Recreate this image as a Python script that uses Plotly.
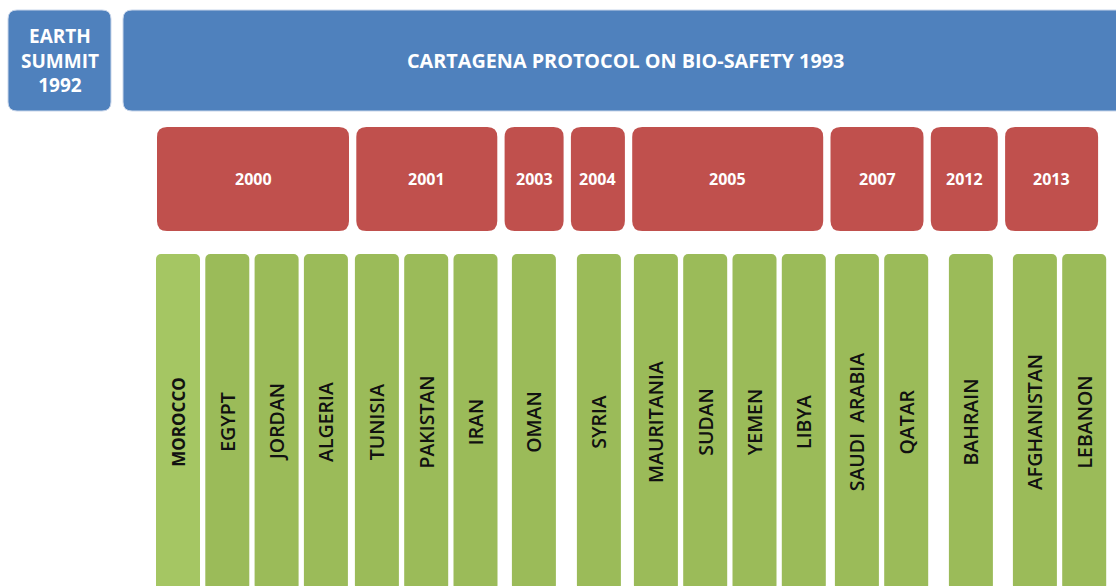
import plotly.graph_objects as go

# ---------------- data ----------------
header_left = ["EARTH", "SUMMIT", "1992"]
header_main = "CARTAGENA PROTOCOL ON BIO-SAFETY 1993"
years = ["2000", "2001", "2003", "2004", "2005", "2007", "2012", "2013"]
countries = ["MOROCCO", "EGYPT", "JORDAN", "ALGERIA",
             "TUNISIA", "PAKISTAN", "IRAN",
             "OMAN", "SYRIA",
             "MAURITANIA", "SUDAN", "YEMEN", "LIBYA",
             "SAUDI  ARABIA", "QATAR",
             "BAHRAIN",
             "AFGHANISTAN", "LEBANON"]
country_year = ["2000", "2000", "2000", "2000",
                "2001", "2001", "2001",
                "2003", "2004",
                "2005", "2005", "2005", "2005",
                "2007", "2007",
                "2012",
                "2013", "2013"]

# ---------------- layout / style ----------------
W, H = 1116, 586
BLUE, RED, GREEN, GREEN_LIGHT = "#4F81BD", "#C0504D", "#9BBB59", "#A5C663"
FONT = "Open Sans"

col_pitch, col_w, col_x0 = 49.3, 44, 156
group_gap = [0, 1.7, 9.1, 15.7, 7.7, 3.8, 15.4, 14.7]   # extra space before each year group
col_top, col_base = 254, 590

red_x0, red_gap = 157, 7.3
red_w = [192, 141, 59, 54, 191, 93, 67, 93]
red_top, red_bot = 127, 231

blue_top, blue_bot = 10, 111
blue_left = (8, 111)
blue_main = (123, 1150)
title_x = 625


def rrect(x0, y0, x1, y1, r):
    return (f"M {x0+r},{y0} L {x1-r},{y0} Q {x1},{y0} {x1},{y0+r} "
            f"L {x1},{y1-r} Q {x1},{y1} {x1-r},{y1} L {x0+r},{y1} "
            f"Q {x0},{y1} {x0},{y1-r} L {x0},{y0+r} Q {x0},{y0} {x0+r},{y0} Z")


# column positions derived from the grouping
centers = []
x = col_x0 - col_pitch
prev = None
for yr in country_year:
    g = years.index(yr)
    x += col_pitch + (group_gap[g] if yr != prev else 0)
    centers.append(x + col_w / 2)
    prev = yr

fig = go.Figure()

# green country columns (bars, rounded tip at the top)
first = [0]
rest = list(range(1, len(countries)))
for idx, color, weight, size in [(first, GREEN_LIGHT, 700, 17), (rest, GREEN, 600, 19.5)]:
    fig.add_trace(go.Bar(
        x=[centers[i] for i in idx],
        y=[col_top - col_base] * len(idx),
        base=col_base,
        width=col_w,
        marker=dict(color=color, cornerradius=5, line=dict(width=0)),
        text=[countries[i] for i in idx],
        textposition="inside",
        insidetextanchor="middle",
        textangle=-90,
        textfont=dict(family=FONT, size=size, color="#111111", weight=weight),
        hoverinfo="skip",
        showlegend=False,
    ))

shapes = []
annotations = []

# blue header boxes
for (bx0, bx1) in [blue_left, blue_main]:
    shapes.append(dict(type="path", xref="x", yref="y",
                       path=rrect(bx0, blue_top, bx1, blue_bot, 9),
                       fillcolor=BLUE, line=dict(color="#C9D6EA", width=1), layer="below"))
annotations.append(dict(x=(blue_left[0] + blue_left[1]) / 2, y=(blue_top + blue_bot) / 2,
                        xref="x", yref="y", showarrow=False,
                        text="<br>".join(header_left),
                        font=dict(family=FONT, size=19, color="white", weight="bold")))
annotations.append(dict(x=title_x, y=(blue_top + blue_bot) / 2,
                        xref="x", yref="y", showarrow=False, text=header_main,
                        font=dict(family=FONT, size=19.8, color="white", weight="bold")))

# red year boxes
rx = red_x0
for yr, w in zip(years, red_w):
    shapes.append(dict(type="path", xref="x", yref="y",
                       path=rrect(rx, red_top, rx + w, red_bot, 10),
                       fillcolor=RED, line=dict(width=0), layer="below"))
    annotations.append(dict(x=rx + w / 2, y=(red_top + red_bot) / 2, xref="x", yref="y",
                            showarrow=False, text=yr,
                            font=dict(family=FONT, size=16, color="white", weight="bold")))
    rx += w + red_gap

fig.update_layout(
    width=W, height=H,
    margin=dict(l=0, r=0, t=0, b=0),
    paper_bgcolor="white", plot_bgcolor="white",
    barmode="overlay",
    xaxis=dict(range=[0, W], visible=False, fixedrange=True),
    yaxis=dict(range=[H, 0], visible=False, fixedrange=True),
    shapes=shapes,
    annotations=annotations,
    hovermode=False,
)

fig.write_html("out.html", config={"displayModeBar": False},
               post_script="document.body.style.margin='0';document.body.style.overflow='hidden';")
